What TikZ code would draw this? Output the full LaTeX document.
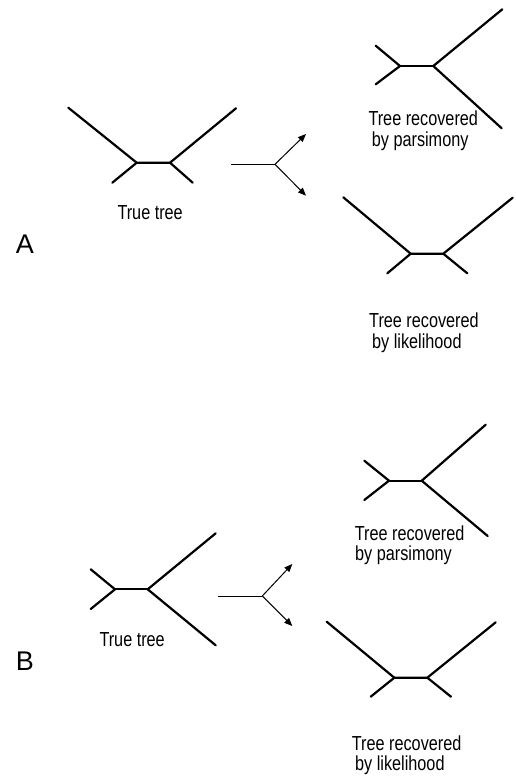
\documentclass[tikz,border=0pt]{standalone}
\usepackage{fontspec}
\setmainfont{Liberation Sans}[FakeStretch=0.8]
\newfontfamily\panelfont{Liberation Sans}
\usetikzlibrary{arrows.meta}
\tikzset{
  branch/.style={line width=2.2pt, line cap=round, line join=miter},
  pointer/.style={line width=1pt, -{Triangle[length=8pt,width=6.5pt]}},
  stem/.style={line width=1pt},
  lbl/.style={anchor=base west, inner sep=0pt, font=\fontsize{20.3}{22}\selectfont},
  panel/.style={anchor=center, inner sep=0pt, font=\panelfont\fontsize{27}{28}\selectfont}
}
\begin{document}
\begin{tikzpicture}[x=1pt,y=-1pt]
\useasboundingbox (0,0) rectangle (516,776);

% ---------- A: true tree ----------
\coordinate (ata) at (68.3,107.7);
\coordinate (atn1) at (136.7,162.7);
\coordinate (atn2) at (170,162.7);
\coordinate (atb) at (236,108.3);
\coordinate (atc) at (112.3,182.7);
\coordinate (atd) at (192.7,182.7);
\draw[branch] (ata) -- (atn1) -- (atn2) -- (atb);
\draw[branch] (atc) -- (atn1);
\draw[branch] (atd) -- (atn2);
\node[lbl] (attxt) at (117.3,219) {True tree};

% ---------- A: arrows ----------
\coordinate (aas) at (231,164.3);
\coordinate (aaj) at (275,164.3);
\coordinate (aau) at (306,134);
\coordinate (aal) at (306,195.7);
\draw[stem] (aas) -- (aaj);
\draw[pointer] (aaj) -- (aau);
\draw[pointer] (aaj) -- (aal);

% ---------- A: parsimony ----------
\coordinate (apa) at (375.7,45.7);
\coordinate (apn1) at (400,66);
\coordinate (apb) at (375.7,84.3);
\coordinate (apn2) at (433.3,66);
\coordinate (apc) at (502.3,9.3);
\coordinate (apd) at (501.7,128.3);
\draw[branch] (apa) -- (apn1) -- (apb);
\draw[branch] (apn1) -- (apn2);
\draw[branch] (apc) -- (apn2) -- (apd);
\node[lbl] (aptxt1) at (368.3,125) {Tree recovered};
\node[lbl] (aptxt2) at (371.7,146) {by parsimony};

% ---------- A: likelihood ----------
\coordinate (ala) at (343.3,197.3);
\coordinate (aln1) at (410.7,253.7);
\coordinate (aln2) at (443.3,253.7);
\coordinate (alb) at (512.7,197.7);
\coordinate (alc) at (387.3,273.3);
\coordinate (ald) at (467.3,273.3);
\draw[branch] (ala) -- (aln1) -- (aln2) -- (alb);
\draw[branch] (alc) -- (aln1);
\draw[branch] (ald) -- (aln2);
\node[lbl] (altxt1) at (369,327) {Tree recovered};
\node[lbl] (altxt2) at (372,348) {by likelihood};

\node[panel] (pA) at (25,244) {A};

% ---------- B: true tree ----------
\coordinate (bta) at (90.7,569.3);
\coordinate (btn1) at (115,589.3);
\coordinate (btb) at (90.7,609);
\coordinate (btn2) at (147.7,589.3);
\coordinate (btc) at (215.7,533.3);
\coordinate (btd) at (215.7,645.3);
\draw[branch] (bta) -- (btn1) -- (btb);
\draw[branch] (btn1) -- (btn2);
\draw[branch] (btc) -- (btn2) -- (btd);
\node[lbl] (bttxt) at (99.3,646) {True tree};

% ---------- B: arrows ----------
\coordinate (bas) at (217.7,596);
\coordinate (baj) at (262.3,596);
\coordinate (bau) at (292.3,564);
\coordinate (bal) at (292.3,626);
\draw[stem] (bas) -- (baj);
\draw[pointer] (baj) -- (bau);
\draw[pointer] (baj) -- (bal);

% ---------- B: parsimony ----------
\coordinate (bpa) at (364.3,460.7);
\coordinate (bpn1) at (389,480.7);
\coordinate (bpb) at (364.3,500);
\coordinate (bpn2) at (421.7,480.7);
\coordinate (bpc) at (485.7,424.7);
\coordinate (bpd) at (487.7,536);
\draw[branch] (bpa) -- (bpn1) -- (bpb);
\draw[branch] (bpn1) -- (bpn2);
\draw[branch] (bpc) -- (bpn2) -- (bpd);
\node[lbl] (bptxt1) at (354.7,540) {Tree recovered};
\node[lbl] (bptxt2) at (355,560) {by parsimony};

% ---------- B: likelihood ----------
\coordinate (bla) at (326.7,621.7);
\coordinate (bln1) at (394.3,677.7);
\coordinate (bln2) at (427.3,677.7);
\coordinate (blb) at (495.7,622.3);
\coordinate (blc) at (370.7,696.7);
\coordinate (bld) at (451,696.7);
\draw[branch] (bla) -- (bln1) -- (bln2) -- (blb);
\draw[branch] (blc) -- (bln1);
\draw[branch] (bld) -- (bln2);
\node[lbl] (bltxt1) at (351.7,750) {Tree recovered};
\node[lbl] (bltxt2) at (355,770) {by likelihood};

\node[panel] (pB) at (25,661) {B};
\end{tikzpicture}
\end{document}
